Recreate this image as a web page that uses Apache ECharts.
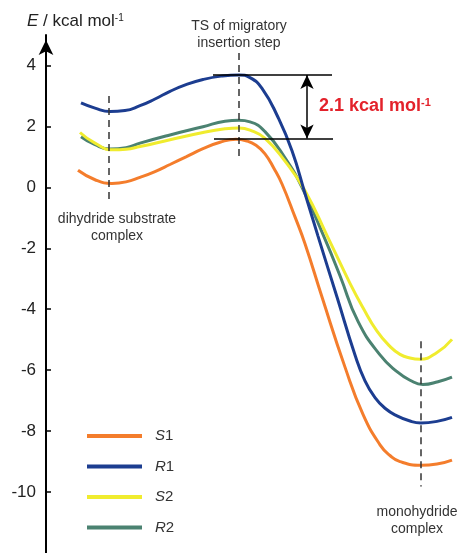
<!DOCTYPE html>
<html>
<head>
<meta charset="utf-8">
<script src="https://cdn.jsdelivr.net/npm/echarts@6/dist/echarts.min.js"></script>
<style>
  html, body { margin: 0; padding: 0; background: #fff; }
  #main { width: 463px; height: 553px; }
</style>
</head>
<body>
<div id="main"></div>
<script>
// reaction coordinate (x) and energy (kcal/mol)
var s1X = [32, 49, 66, 80, 94, 109, 124, 140, 157, 174, 190, 200, 210, 219, 228, 236, 249, 259, 276, 299, 317, 334, 344, 354, 375, 391, 406];
var s1E = [0.56, 0.25, 0.13, 0.18, 0.33, 0.52, 0.75, 1.0, 1.27, 1.48, 1.58, 1.53, 1.38, 1.1, 0.62, 0.11, -0.97, -1.85, -3.6, -5.9, -7.45, -8.45, -8.8, -9.0, -9.12, -9.08, -8.95];

var r1X = [35, 49, 64, 79, 94, 109, 124, 140, 157, 175, 193, 204, 216, 232, 246, 259, 272, 291, 309, 319, 329, 339, 351, 364, 375, 391, 406];
var r1E = [2.77, 2.6, 2.49, 2.52, 2.68, 2.9, 3.15, 3.37, 3.54, 3.65, 3.69, 3.6, 3.25, 2.3, 1.2, -0.2, -1.6, -3.6, -5.5, -6.35, -6.9, -7.25, -7.5, -7.67, -7.73, -7.68, -7.55];

var s2X = [34, 49, 67, 80, 94, 124, 157, 179, 193, 204, 219, 239, 259, 282, 304, 317, 331, 344, 354, 364, 374, 391, 406];
var s2E = [1.8, 1.45, 1.23, 1.25, 1.34, 1.56, 1.8, 1.92, 1.95, 1.88, 1.61, 0.86, -0.11, -1.65, -3.15, -3.95, -4.72, -5.22, -5.48, -5.6, -5.64, -5.42, -4.99];

var r2X = [35, 49, 64, 80, 94, 124, 157, 179, 193, 204, 219, 239, 256, 279, 294, 312, 334, 351, 364, 377, 392, 406];
var r2E = [1.66, 1.4, 1.26, 1.3, 1.45, 1.72, 1.99, 2.17, 2.2, 2.15, 1.83, 0.97, 0.0, -1.7, -2.9, -4.4, -5.5, -6.05, -6.33, -6.47, -6.38, -6.23];

var seriesNames = ['S1', 'R1', 'S2', 'R2'];
var yTicks = [-10, -8, -6, -4, -2, 0, 2, 4];

// stationary points (x) and the barrier levels
var stationX = [63, 193, 375];
var tsHigh = 3.69, tsLow = 1.60;

function zip(xs, ys) {
	var out = [];
	for (var i = 0; i < xs.length; i++) {
		out.push([xs[i], ys[i]]);
	}
	return out;
}

var chart = echarts.init(document.getElementById('main'), null, {renderer: 'canvas'});

var FONT = 'Liberation Sans, Arial, sans-serif';
var dashStyle = {color: '#333', width: 1.5, type: [7, 5]};
var blackStyle = {color: '#000', width: 1.5, type: 'solid'};

var option = {
	backgroundColor: '#fff',
	animation: false,
	grid: {left: 46, top: 35, width: 417, height: 527, containLabel: false},
	xAxis: {
		type: 'value',
		min: 0,
		max: 417,
		show: false
	},
	yAxis: {
		type: 'value',
		min: -12,
		max: 5,
		interval: 2,
		axisLine: {
			show: true,
			lineStyle: {color: '#000', width: 2},
			symbol: ['none', 'arrow'],
			symbolSize: [11, 15],
			symbolOffset: [0, -5]
		},
		axisTick: {
			show: true,
			inside: true,
			length: 5,
			lineStyle: {color: '#000', width: 1.5},
			customValues: yTicks
		},
		axisLabel: {
			fontSize: 17,
			color: '#222',
			fontFamily: FONT,
			margin: 10,
			customValues: yTicks
		},
		splitLine: {show: false}
	},
	legend: {
		orient: 'vertical',
		left: 82,
		top: 421,
		data: seriesNames,
		icon: 'rect',
		itemWidth: 55,
		itemHeight: 4,
		itemGap: 10.5,
		selectedMode: false,
		formatter: function (name) {
			return '{i|' + name.charAt(0) + '}{n|' + name.slice(1) + '}';
		},
		textStyle: {
			fontSize: 15,
			color: '#333',
			lineHeight: 20,
			fontFamily: FONT,
			rich: {
				i: {fontStyle: 'italic', fontSize: 15, color: '#333', padding: [0, 0, 0, 8], fontFamily: FONT},
				n: {fontSize: 15, color: '#333', fontFamily: FONT}
			}
		}
	},
	series: [
		{
			name: 'R2',
			type: 'line',
			smooth: 0.5,
			showSymbol: false,
			color: '#4B8271',
			lineStyle: {width: 3},
			data: zip(r2X, r2E)
		},
		{
			name: 'S2',
			type: 'line',
			smooth: 0.5,
			showSymbol: false,
			color: '#F0EC2E',
			lineStyle: {width: 3},
			data: zip(s2X, s2E)
		},
		{
			name: 'S1',
			type: 'line',
			smooth: 0.5,
			showSymbol: false,
			color: '#F47D2C',
			lineStyle: {width: 3},
			data: zip(s1X, s1E)
		},
		{
			name: 'R1',
			type: 'line',
			smooth: 0.5,
			showSymbol: false,
			color: '#1C3D90',
			lineStyle: {width: 3},
			data: zip(r1X, r1E)
		},
		{
			// dashed markers and the barrier bracket
			name: 'annotations',
			type: 'line',
			data: [],
			silent: true,
			markLine: {
				silent: true,
				animation: false,
				symbol: 'none',
				label: {show: false},
				emphasis: {disabled: true},
				data: [
					[{coord: [stationX[0], 3.0], lineStyle: dashStyle}, {coord: [stationX[0], -0.48]}],
					[{coord: [stationX[1], 4.41], lineStyle: dashStyle}, {coord: [stationX[1], 0.97]}],
					[{coord: [stationX[2], -5.05], lineStyle: dashStyle}, {coord: [stationX[2], -9.82]}],
					[{coord: [167, tsHigh], lineStyle: blackStyle}, {coord: [286, tsHigh]}],
					[{coord: [168, tsLow], lineStyle: blackStyle}, {coord: [287, tsLow]}],
					[{coord: [261, tsHigh], lineStyle: blackStyle, symbol: 'arrow', symbolSize: [10, 14]},
					 {coord: [261, tsLow], symbol: 'arrow', symbolSize: [10, 14]}]
				]
			}
		}
	],
	graphic: [
		{
			type: 'text',
			left: 27,
			top: 13,
			style: {
				text: '{e|E} / kcal mol{s|-1}',
				fill: '#222',
				font: '17px ' + FONT,
				rich: {
					e: {fontStyle: 'italic', fontSize: 17, fill: '#222', fontFamily: FONT},
					s: {fontSize: 10, fill: '#222', verticalAlign: 'top', fontFamily: FONT}
				}
			}
		},
		{
			type: 'text',
			x: 239,
			y: 35,
			style: {
				text: 'TS of migratory\ninsertion step',
				fill: '#333',
				font: '14px ' + FONT,
				lineHeight: 17,
				align: 'center',
				verticalAlign: 'middle'
			}
		},
		{
			type: 'text',
			x: 117,
			y: 228,
			style: {
				text: 'dihydride substrate\ncomplex',
				fill: '#333',
				font: '14px ' + FONT,
				lineHeight: 17,
				align: 'center',
				verticalAlign: 'middle'
			}
		},
		{
			type: 'text',
			x: 417,
			y: 521,
			style: {
				text: 'monohydride\ncomplex',
				fill: '#333',
				font: '14px ' + FONT,
				lineHeight: 17,
				align: 'center',
				verticalAlign: 'middle'
			}
		},
		{
			type: 'text',
			left: 319,
			top: 97,
			style: {
				text: '{b|2.1 kcal mol}{s|-1}',
				rich: {
					b: {fontSize: 18, fontWeight: 'bold', fill: '#E3222B', fontFamily: FONT},
					s: {fontSize: 11, fontWeight: 'bold', fill: '#E3222B', verticalAlign: 'top', fontFamily: FONT}
				}
			}
		}
	]
};

chart.setOption(option);
</script>
</body>
</html>
